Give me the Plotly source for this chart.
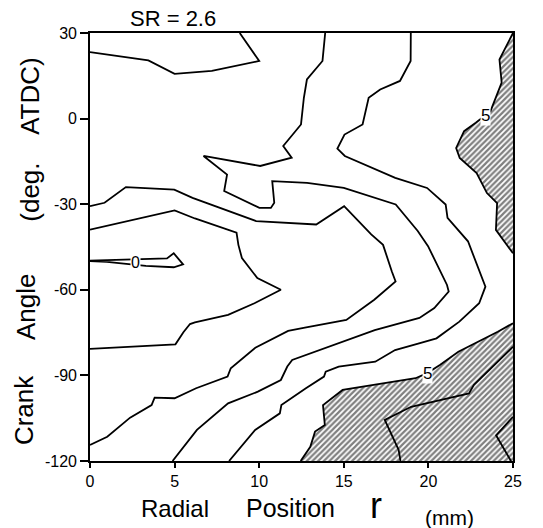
import plotly.graph_objects as go

# Radial position r (mm) and crank angle (deg ATDC) of each contour polyline
top_r = [0, 3.45, 5.0, 7.2, 10.0, 8.85]
top_a = [23.3, 20.4, 15.7, 16.7, 20.2, 30]

mid_r = [13.9, 13.74, 12.82, 12.64, 12.47, 11.42, 11.92, 10.06, 6.71, 8.1, 7.93, 10.01,
         10.69, 10.89, 10.77, 12.83, 15.0, 18.07, 19.37, 19.98, 21.1, 21.2, 20.35, 19.47,
         16.83, 14.68, 12.73, 11.95, 11.66, 11.28, 9.92, 8.16, 6.32, 4.88]
mid_a = [30, 20.2, 13.7, 7.3, -2.05, -9.6, -13.7, -16.6, -13.1, -19.6, -25.4, -31.3,
         -31.3, -29.5, -21.9, -22.5, -24.3, -30.1, -39.4, -44.7, -58.3, -60.6, -66.4, -69.85,
         -74.1, -78.7, -82.8, -84.6, -86.9, -91.6, -95.7, -99.8, -109.1, -120]

outer_r = [18.96, 18.95, 18.32, 17.15, 16.47, 16.11, 15.04, 14.62, 15.06, 18.04, 19.92,
           21.02, 21.13, 22.34, 23.37, 23.0, 21.83, 20.48, 19.5, 18.03, 16.86, 14.7, 13.93,
           13.83, 12.76, 11.31, 11.22, 9.76, 8.22]
outer_a = [30, 20.2, 13.2, 10.2, 7.3, -2.05, -5.6, -10.5, -13.1, -20.75, -24.3,
           -30.1, -34.8, -43, -58.9, -64.7, -71.15, -77.0, -78.7, -81.1, -85.2, -86.9, -88.7,
           -90.4, -94.5, -100.4, -103.3, -109.1, -120]

band_r = [0, 0.86, 2.12, 4.98, 6.06, 9.82, 13.37, 15.02, 16.62, 17.32, 17.84, 18.06, 16.8,
          15.15, 12.7, 11.71, 9.77, 8.32, 8.13, 6.27, 5.0, 3.82, 3.64, 2.37, 1.02, 0]
band_a = [-30.7, -29.5, -24.0, -24.9, -27.8, -35.9, -37.1, -30.7, -40.6, -44.25, -53.6,
          -57.1, -63.5, -70.55, -73.25, -74.4, -80.3, -87.5, -90.4, -94.5, -98.0, -97.8,
          -100.4, -104.8, -111.5, -114.4]

inner_r = [0, 5.0, 6.2, 8.66, 8.77, 8.98, 9.89, 11.28, 9.72, 8.16, 6.2, 5.91, 5.52, 5.05, 0]
inner_a = [-38.9, -32.2, -35.0, -40.0, -44.25, -48.9, -55.9, -60.0, -64.7, -68.8, -71.4,
           -72.0, -74.9, -79.1, -80.7]

zero_r = [0, 2.0, 3.3, 4.55, 4.95, 5.5, 4.95, 3.3, 2.0, 1.0, 0]
zero_a = [-49.8, -49.4, -49.3, -49.0, -47.2, -51.1, -52.1, -51.6, -50.8, -50.2, -49.9]

# level-5 boundaries (hatched side lies toward the right / lower-right edges)
five_up_r = [25, 24.2, 24.33, 23.67, 22.8, 22.11, 21.64, 21.85, 22.85, 23.46, 24.06, 23.99, 25]
five_up_a = [30, 20.7, 12.6, 2.6, -1.45, -4.4, -10.3, -13.8, -19.1, -26.1, -29.6, -39.0, -47.2]

five_lo_r = [25, 24.1, 21.77, 20.7, 19.93, 19.24, 14.93, 13.77, 13.88, 13.3, 13.02, 12.45]
five_lo_a = [-71.7, -74.7, -81.7, -86.3, -89.2, -91.0, -95.1, -100.4, -107.4, -109.7, -115, -120]

six_r = [25, 22.69, 22.4, 18.98, 17.42, 18.24, 18.35]
six_a = [-80.0, -93.3, -96.3, -101, -105.6, -116.1, -120]

corner_r = [25, 24.0, 24.88]
corner_a = [-104.5, -111, -120]

x_ticks = [0, 5, 10, 15, 20, 25]
y_ticks = [-120, -90, -60, -30, 0, 30]
y_ticktext = ["-120", "-90", "-60", "-30", "0", "30"]

FONT = "Liberation Sans, Arial, Helvetica, sans-serif"
hatch = dict(shape="/", fgcolor="black", bgcolor="white", size=4, solidity=0.55)

fig = go.Figure()

# hatched regions above level 5
fig.add_trace(go.Scatter(x=five_up_r + [25], y=five_up_a + [30], mode="lines",
                         fill="toself", fillcolor="white", fillpattern=hatch,
                         line=dict(width=0), hoverinfo="skip"))
fig.add_trace(go.Scatter(x=five_lo_r + [25], y=five_lo_a + [-120], mode="lines",
                         fill="toself", fillcolor="white", fillpattern=hatch,
                         line=dict(width=0), hoverinfo="skip"))

line_style = dict(color="black", width=1.8)
for rr, aa in [(top_r, top_a), (mid_r, mid_a), (outer_r, outer_a), (band_r, band_a),
               (inner_r, inner_a), (zero_r, zero_a), (five_up_r, five_up_a),
               (five_lo_r, five_lo_a), (six_r, six_a), (corner_r, corner_a)]:
    fig.add_trace(go.Scatter(x=rr, y=aa, mode="lines", line=line_style, hoverinfo="skip"))

annotations = [
    dict(x=2.7, y=-50.3, xref="x", yref="y", text="0", font=dict(size=16)),
    dict(x=23.35, y=1.2, xref="x", yref="y", text="5", font=dict(size=17)),
    dict(x=19.93, y=-89.5, xref="x", yref="y", text="5", font=dict(size=17)),
]
for a in annotations:
    a.update(showarrow=False, bgcolor="white", borderpad=0)

titles = [
    dict(x=0.196, y=1.033, text="SR = 2.6", font=dict(size=22)),
    dict(x=0.201, y=-0.110, text="Radial", font=dict(size=24)),
    dict(x=0.475, y=-0.110, text="Position", font=dict(size=25)),
    dict(x=0.676, y=-0.103, text="r", font=dict(size=36)),
    dict(x=0.851, y=-0.131, text="(mm)", font=dict(size=21)),
    dict(x=-0.156, y=0.119, text="Crank", font=dict(size=26), textangle=-90),
    dict(x=-0.151, y=0.360, text="Angle", font=dict(size=26), textangle=-90),
    dict(x=-0.142, y=0.629, text="(deg.", font=dict(size=26), textangle=-90),
    dict(x=-0.142, y=0.853, text="ATDC)", font=dict(size=26), textangle=-90),
]
for t in titles:
    t.update(xref="paper", yref="paper", showarrow=False, xanchor="center", yanchor="middle")
    t["font"].update(family=FONT, color="black")
for a in annotations:
    a["font"].update(family=FONT, color="black")

fig.update_layout(
    width=543, height=528,
    margin=dict(l=90, r=30, t=33, b=67),
    paper_bgcolor="white", plot_bgcolor="white",
    showlegend=False,
    font=dict(family=FONT, color="black"),
    annotations=annotations + titles,
    xaxis=dict(range=[0, 25], tickvals=x_ticks, ticks="outside", ticklen=5, tickwidth=1.5,
               tickcolor="black", showline=True, linecolor="black", linewidth=1.6,
               mirror=True, showgrid=False, zeroline=False, tickfont=dict(size=16)),
    yaxis=dict(range=[-120, 30], tickvals=y_ticks, ticktext=y_ticktext, ticks="outside",
               ticklen=8, tickwidth=1.5, tickcolor="black", showline=True,
               linecolor="black", linewidth=1.6, mirror=True, showgrid=False,
               zeroline=False, tickfont=dict(size=16)),
)

fig.write_html("out.html")
